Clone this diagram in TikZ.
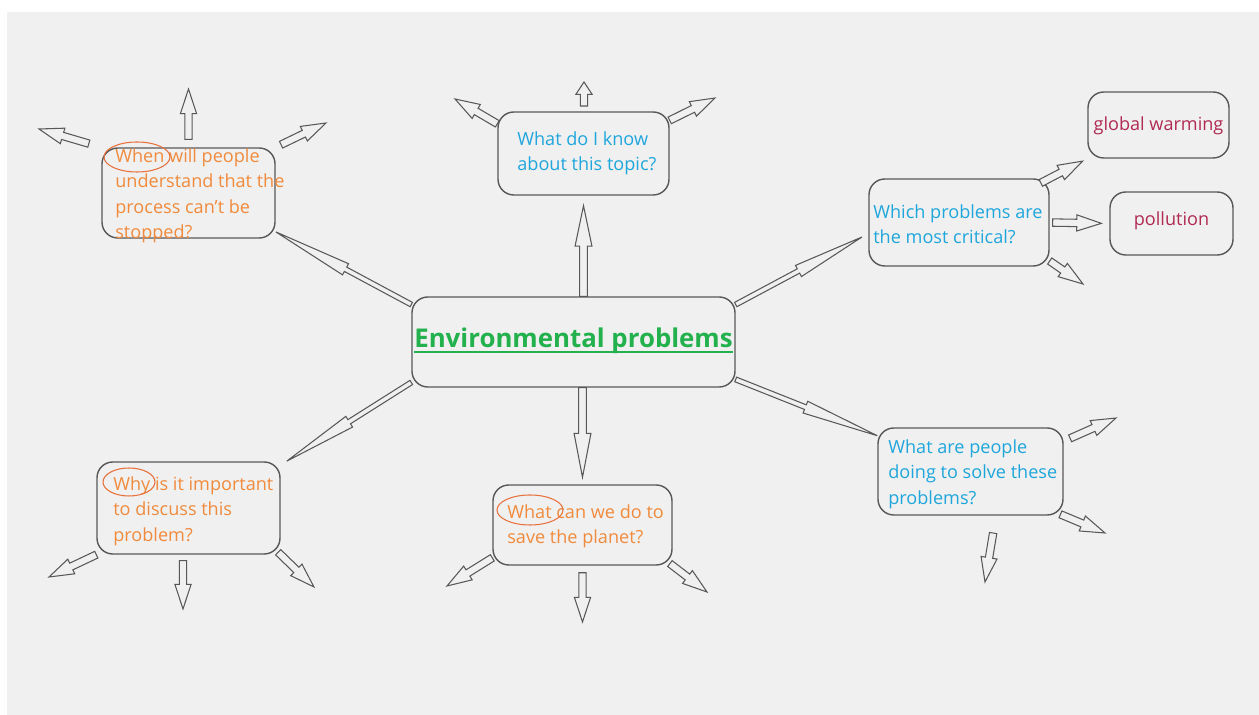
\documentclass[tikz,border=0pt]{standalone}
\usepackage{fontspec}
\setmainfont{Open Sans}
\usetikzlibrary{calc,fit}

\definecolor{bggray}{HTML}{F0F0F0}
\definecolor{linegray}{HTML}{585858}
\definecolor{qblue}{HTML}{1EA6DD}
\definecolor{qorange}{HTML}{F08A3C}
\definecolor{ringred}{HTML}{E8703C}
\definecolor{topicred}{HTML}{B02A52}
\definecolor{titlegreen}{HTML}{22B14C}

% arrow sizes (head length, head half width, shaft half width, gaps)
\newcommand{\ahl}{14pt}
\newcommand{\ahw}{4.6pt}
\newcommand{\asw}{2.1pt}
\newcommand{\ags}{0pt}
\newcommand{\age}{0pt}
\newcommand{\wordline}[1]{\setbox0\hbox{#1}\rlap{\rule[-2.6pt]{\wd0}{0.8pt}}\box0}

\tikzset{
  qbox/.style={draw=linegray, line width=0.8pt, rounded corners=9pt, inner sep=0pt, fill=bggray},
  qtext/.style={inner sep=0pt, anchor=north west, align=left, font=\fontsize{10.3}{14.5}\selectfont},
  ring/.style={draw=ringred, line width=0.6pt},
  headlen/.code={\def\ahl{#1}},
  headwid/.code={\def\ahw{#1}},
  shaftwid/.code={\def\asw{#1}},
  gapstart/.code={\def\ags{#1}},
  gapend/.code={\def\age{#1}},
  hollow/.style={draw=linegray, fill=bggray, line width=0.6pt,
    to path={let \p1=(\tikztostart), \p2=(\tikztotarget),
      \n1={atan2(\y2-\y1,\x2-\x1)}, \n2={veclen(\x2-\x1,\y2-\y1)-\age}, \n3={\n2-\ahl} in
      ($(\p1)+(\n1:\ags)+({\n1+90}:\asw)$) -- ($(\p1)+(\n1:\n3)+({\n1+90}:\asw)$)
      -- ($(\p1)+(\n1:\n3)+({\n1+90}:\ahw)$) -- ($(\p1)+(\n1:\n2)$)
      -- ($(\p1)+(\n1:\n3)+({\n1-90}:\ahw)$) -- ($(\p1)+(\n1:\n3)+({\n1-90}:\asw)$)
      -- ($(\p1)+(\n1:\ags)+({\n1-90}:\asw)$) -- cycle}},
  bighollow/.style={hollow, headlen=43pt, headwid=3.6pt, shaftwid=1.4pt},
}

\begin{document}
\begin{tikzpicture}[x=0.02cm, y=-0.02cm]
  \fill[white] (0,0) rectangle (1259,715);
  \fill[bggray] (7,12) rectangle (1259,715);
  \useasboundingbox (0,0) rectangle (1259,715);

  % boxes
  \node[qbox, fit={(412,297) (735,387)}, text=titlegreen,
        font=\bfseries\fontsize{14.7}{17}\selectfont] (env) {\raisebox{-3.4pt}[0pt][0pt]{\wordline{Environmental problems}}};
  \node[qbox, fit={(498,112) (669,195)}] (know) {};
  \node[qbox, fit={(102,148) (275,238)}] (when) {};
  \node[qbox, fit={(869,179) (1049,266)}] (which) {};
  \node[qbox, fit={(1088,92) (1229,158)}, text=topicred,
        font=\fontsize{10.3}{14.5}\selectfont] (gw) {\raisebox{-2.9pt}[0pt][0pt]{global warming}};
  \node[qbox, fit={(1110,192) (1233,255)}, text=topicred,
        font=\fontsize{10.3}{14.5}\selectfont] (poll) {\raisebox{-1pt}[0pt][0pt]{pollution}};
  \node[qbox, fit={(97,462) (280,554)}] (why) {};
  \node[qbox, fit={(493,485) (672,565)}] (save) {};
  \node[qbox, fit={(878,428) (1063,515)}] (doing) {};

  % questions
  \node[qtext, text=qblue] (knowtxt) at (517,131) {What do I know\\about this topic?};
  \node[qtext, text=qorange] (whentxt) at (115,148) {When will people\\understand that the\\process can't be\\stopped?};
  \node[qtext, text=qblue] (whichtxt) at (873,204) {Which problems are\\the most critical?};
  \node[qtext, text=qorange] (whytxt) at (113,476) {Why is it important\\to discuss this\\problem?};
  \node[qtext, text=qorange] (savetxt) at (507,504) {What can we do to\\save the planet?};
  \node[qtext, text=qblue] (doingtxt) at (888,439) {What are people\\doing to solve these\\problems?};

  % rings round the question words
  \draw[ring] (137,157) ellipse [x radius=33, y radius=15];
  \draw[ring] (129,482) ellipse [x radius=26, y radius=14];
  \draw[ring] (530,510) ellipse [x radius=33, y radius=15];

  % from the centre
  \draw[hollow, headlen=23pt, headwid=4.8pt, shaftwid=2.2pt, gapend=5.7pt] (env.north -| know.south) to (know.south);
  \draw[hollow, headlen=25pt, headwid=4.8pt, shaftwid=2.2pt, gapend=4pt] (env.south -| save.north) to (save.north);
  \draw[bighollow, headlen=45pt] (env.167) to (when.-24);
  \draw[bighollow, headlen=41pt, gapend=4pt] (env.13) to (which.187);
  \draw[bighollow, headlen=44pt] (env.-13) to (doing.159);
  \draw[bighollow, headlen=42pt, gapend=4pt] (env.194) to (why.25);

  % free ends
  \foreach \nm/\cx/\cy in {wu/188.5/89, wl/39/129, wr/326/123, ku/584/82, kl/455/99, kr/715/98,
      hl/1083/284, du/1116/418, dr/1105/533, dd/985/582, yl/49/577, yd/183/609, yr/314/587,
      sl/447/586, sd/582.5/622, sr/707/592}
    \coordinate (\nm) at (\cx,\cy);

  % small arrows
  \draw[hollow, gapstart=4.5pt] (when.north) to (wu);
  \draw[hollow, gapstart=7.4pt] (when.north west) to (wl);
  \draw[hollow, gapstart=3.4pt] (when.north east) to (wr);
  \draw[hollow, headlen=7pt, gapstart=3pt] (know.north -| ku) to (ku);
  \draw[hollow] (know.161) to (kl);
  \draw[hollow] (know.21) to (kr);
  \draw[hollow, gapstart=-5.7pt, gapend=3pt] (which.north east) to (gw.south west);
  \draw[hollow, gapstart=1.7pt, gapend=4.5pt] (which.east) to (poll.west);
  \draw[hollow] (which.-23) to (hl);
  \draw[hollow, gapstart=4pt] (doing.18) to (du);
  \draw[hollow, gapstart=-2pt] (doing.south east) to (dr);
  \draw[hollow, gapstart=10pt] (doing.-60) to (dd);
  \draw[hollow] (why.south west) to (yl);
  \draw[hollow, gapstart=3.4pt] (why.south -| yd) to (yd);
  \draw[hollow, gapstart=-2pt] (why.south east) to (yr);
  \draw[hollow] (save.200) to (sl);
  \draw[hollow, gapstart=4pt] (save.south) to (sd);
  \draw[hollow, gapstart=-2pt] (save.south east) to (sr);
\end{tikzpicture}
\end{document}
